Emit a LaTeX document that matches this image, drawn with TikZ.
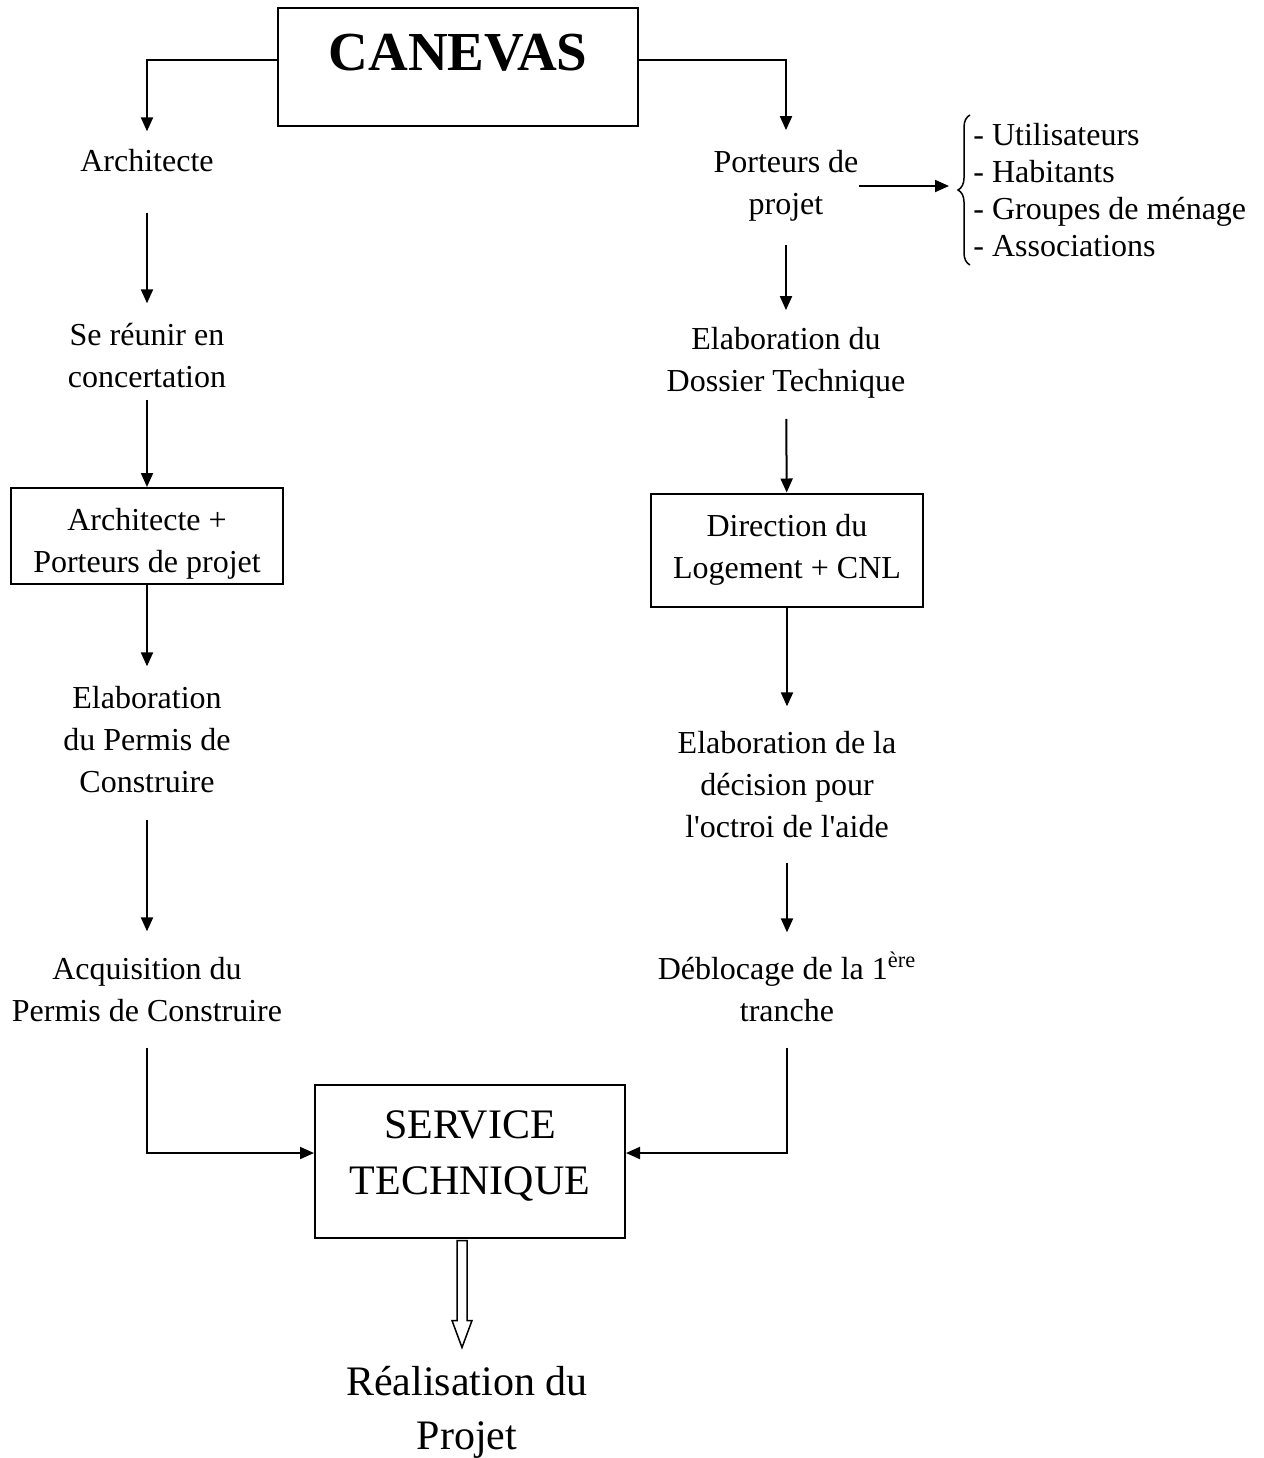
\documentclass[tikz,border=0pt]{standalone}
\usepackage{fontspec}
\setmainfont{Liberation Serif}
\usetikzlibrary{arrows.meta,calc,decorations.pathreplacing}
\newcommand\txtfs{\fontsize{16pt}{21pt}\selectfont}
\newcommand\lstfs{\fontsize{16pt}{18.5pt}\selectfont}
\newcommand\bigfs{\fontsize{21pt}{28pt}\selectfont}
\newcommand\realfs{\fontsize{21pt}{27pt}\selectfont}
\newcommand\titfs{\fontsize{27.5pt}{30pt}\selectfont\bfseries}
\tikzset{
  ar/.style={-{Triangle[length=7pt,width=6pt]},line width=1pt},
  lbl/.style={align=center,inner sep=0pt,font=\txtfs},
  bx/.style={draw,line width=1pt,align=center,inner sep=0pt}
}

\begin{document}
\begin{tikzpicture}[x=0.5pt,y=-0.5pt]
\useasboundingbox (0,0) rectangle (1264,1458);
% title
\node[bx,minimum width=180pt,minimum height=59pt,text depth=15pt,font=\titfs] (canevas) at (458,67) {CANEVAS};
% left column
\node[lbl] (arch) at (147,161) {Architecte};
\node[lbl] (reunir) at (147,356) {Se réunir en\\concertation};
\node[bx,font=\txtfs,minimum width=136pt,minimum height=48pt,text height=40pt] (ap) at (147,536) {Architecte +\\Porteurs de projet};
\node[lbl] (permis) at (147,740) {Elaboration\\du Permis de\\Construire};
\node[lbl] (acq) at (147,990) {Acquisition du\\Permis de Construire};
% right column
\node[lbl] (porteurs) at (786,186) {Porteurs de\\projet};
\node[lbl,align=left,font=\lstfs,anchor=west] (users) at (973,190) {- Utilisateurs\\- Habitants\\- Groupes de ménage\\- Associations};
\node[lbl] (dossier) at (786,363) {Elaboration du\\Dossier Technique};
\node[bx,font=\txtfs,minimum width=136pt,minimum height=56.5pt] (dl) at (787,550) {Direction du\\Logement + CNL};
\node[lbl] (decision) at (787,785) {Elaboration de la\\décision pour\\l\textquotesingle octroi de l\textquotesingle aide};
\node[lbl] (debl) at (787,987) {Déblocage de la 1\textsuperscript{ère}\\tranche};
% bottom
\node[bx,font=\bigfs,minimum width=155pt,minimum height=76.5pt,text depth=8pt] (service) at (470,1161) {SERVICE\\TECHNIQUE};
\node[lbl,font=\realfs] (real) at (467,1412) {Réalisation du\\Projet};
% connectors
\draw[ar,shorten >=9pt] ([yshift=3.5pt]canevas.west) -| (arch);
\draw[ar,shorten >=10pt] ([yshift=3.5pt]canevas.east) -| (porteurs);
\draw[ar,shorten <=20pt,shorten >=10pt] (arch) -- (reunir);
\draw[ar,shorten <=5.5pt] (reunir) -- (ap);
\draw[ar,shorten >=10pt] (ap) -- (permis);
\draw[ar,shorten <=13pt,shorten >=13pt] (permis) -- (acq);
\draw[ar,shorten <=12.5pt] (acq) |- ([yshift=4pt]service.west);
\draw[ar,shorten <=11.5pt,shorten >=8.5pt] (porteurs) -- (dossier);
\draw[ar,shorten <=10pt] (dossier) -- (dl);
\draw[ar,shorten >=12.5pt] (dl) -- (decision);
\draw[ar,shorten <=12pt,shorten >=9.5pt] (decision) -- (debl);
\draw[ar,shorten <=12.5pt] (debl) |- ([yshift=4pt]service.east);
% brace to the list
\coordinate (brtip) at (949,187);
\draw[ar] (porteurs.east) -- (porteurs.east -| brtip);
\draw[decorate,decoration={brace,amplitude=6pt},line width=0.75pt] (970,265) -- (970,115);
% hollow arrow
\coordinate (hs) at ([xshift=-4pt]service.south);
\draw[line width=0.75pt,fill=white] (hs) ++(-5,2) -- ++(0,80) -- ++(-5,0) -- ++(10,27) -- ++(10,-27) -- ++(-5,0) -- ++(0,-80) -- cycle;
\end{tikzpicture}
\end{document}
